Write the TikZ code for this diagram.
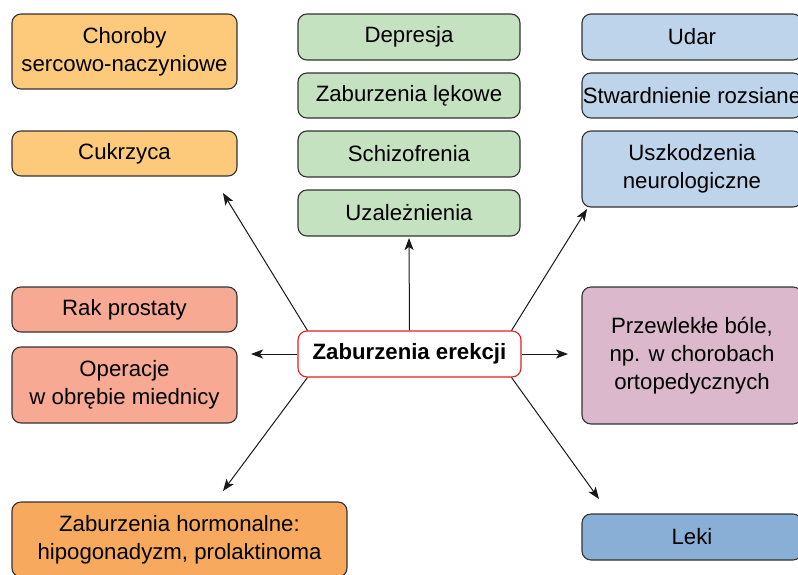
\documentclass[tikz,border=0pt]{standalone}
\usepackage{fontspec}
\setmainfont{Liberation Sans}
\usetikzlibrary{arrows.meta}
\definecolor{cardio}{HTML}{FDCA7C}
\definecolor{psych}{HTML}{C5E2C0}
\definecolor{neuro}{HTML}{BDD4EA}
\definecolor{onco}{HTML}{F7A994}
\definecolor{hormon}{HTML}{F7AA5E}
\definecolor{pain}{HTML}{DBB8CB}
\definecolor{drugs}{HTML}{8AAFD6}
\definecolor{edred}{HTML}{E31E24}
\begin{document}
\begin{tikzpicture}[x=1pt,y=-1pt,
    box/.style={draw=black!80,line width=1.1pt,rounded corners=9pt,
      inner sep=0pt,align=center,font=\fontsize{22.2}{28}\selectfont},
    lbox/.style={box,minimum width=225pt},
    mbox/.style={box,minimum width=222pt},
    rbox/.style={box,minimum width=220pt},
    tip/.style={-{Stealth[length=12pt,width=9pt,inset=3pt]},line width=1pt,black!90}]
  \useasboundingbox (0,0) rectangle (798,574);
  % left column
  \node[lbox,fill=cardio,minimum height=75pt] (chor) at (124.5,51.5) {Choroby\\sercowo-naczyniowe};
  \node[lbox,fill=cardio,minimum height=45pt] (cukr) at (124.5,153.5) {Cukrzyca};
  \node[lbox,fill=onco,minimum height=45pt] (rak) at (124.5,309.5) {Rak prostaty};
  \node[lbox,fill=onco,minimum height=76pt] (oper) at (124.5,385) {Operacje\\w obrębie miednicy};
  \node[box,fill=hormon,minimum width=335pt,minimum height=75pt] (horm) at (179.5,539.5)
    {Zaburzenia hormonalne:\\hipogonadyzm, prolaktinoma};
  % middle column
  \node[mbox,fill=psych,minimum height=46pt] (depr) at (409,37) {Depresja};
  \node[mbox,fill=psych,minimum height=45pt] (lek) at (409,95.5) {Zaburzenia lękowe};
  \node[mbox,fill=psych,minimum height=46pt] (schiz) at (409,154) {Schizofrenia};
  \node[mbox,fill=psych,minimum height=46pt] (uzal) at (409,213) {Uzależnienia};
  \node[box,draw=edred,fill=white,minimum width=223pt,minimum height=46pt,
    font=\fontsize{22.2}{28}\selectfont\bfseries] (ze) at (409.5,354) {Zaburzenia erekcji};
  % right column
  \node[rbox,fill=neuro,minimum height=46pt] (udar) at (692,37) {Udar};
  \node[rbox,fill=neuro,minimum height=45pt] (stw) at (692,95.5) {Stwardnienie rozsiane};
  \node[rbox,fill=neuro,minimum height=76pt] (uszk) at (692,169) {Uszkodzenia\\neurologiczne};
  \node[rbox,fill=pain,minimum height=137pt] (przew) at (692,355.5)
    {Przewlekłe bóle,\\np. w chorobach\\ortopedycznych};
  \node[rbox,fill=drugs,minimum height=46pt] (leki) at (692,537) {Leki};
  % arrow ends
  \coordinate (tup) at (409,238);
  \coordinate (tl) at (251,354);
  \coordinate (tr) at (568,354);
  \coordinate (tul) at (223,193);
  \coordinate (tur) at (587,209);
  \coordinate (tll) at (223,491);
  \coordinate (tlr) at (599,499);
  \begin{scope}[tip]
    \draw (ze.north) -- (tup);
    \draw (ze.west) -- (tl);
    \draw (ze.east) -- (tr);
    \draw (ze.167) -- (tul);
    \draw (ze.13) -- (tur);
    \draw (ze.193) -- (tll);
    \draw (ze.347) -- (tlr);
  \end{scope}
\end{tikzpicture}
\end{document}
